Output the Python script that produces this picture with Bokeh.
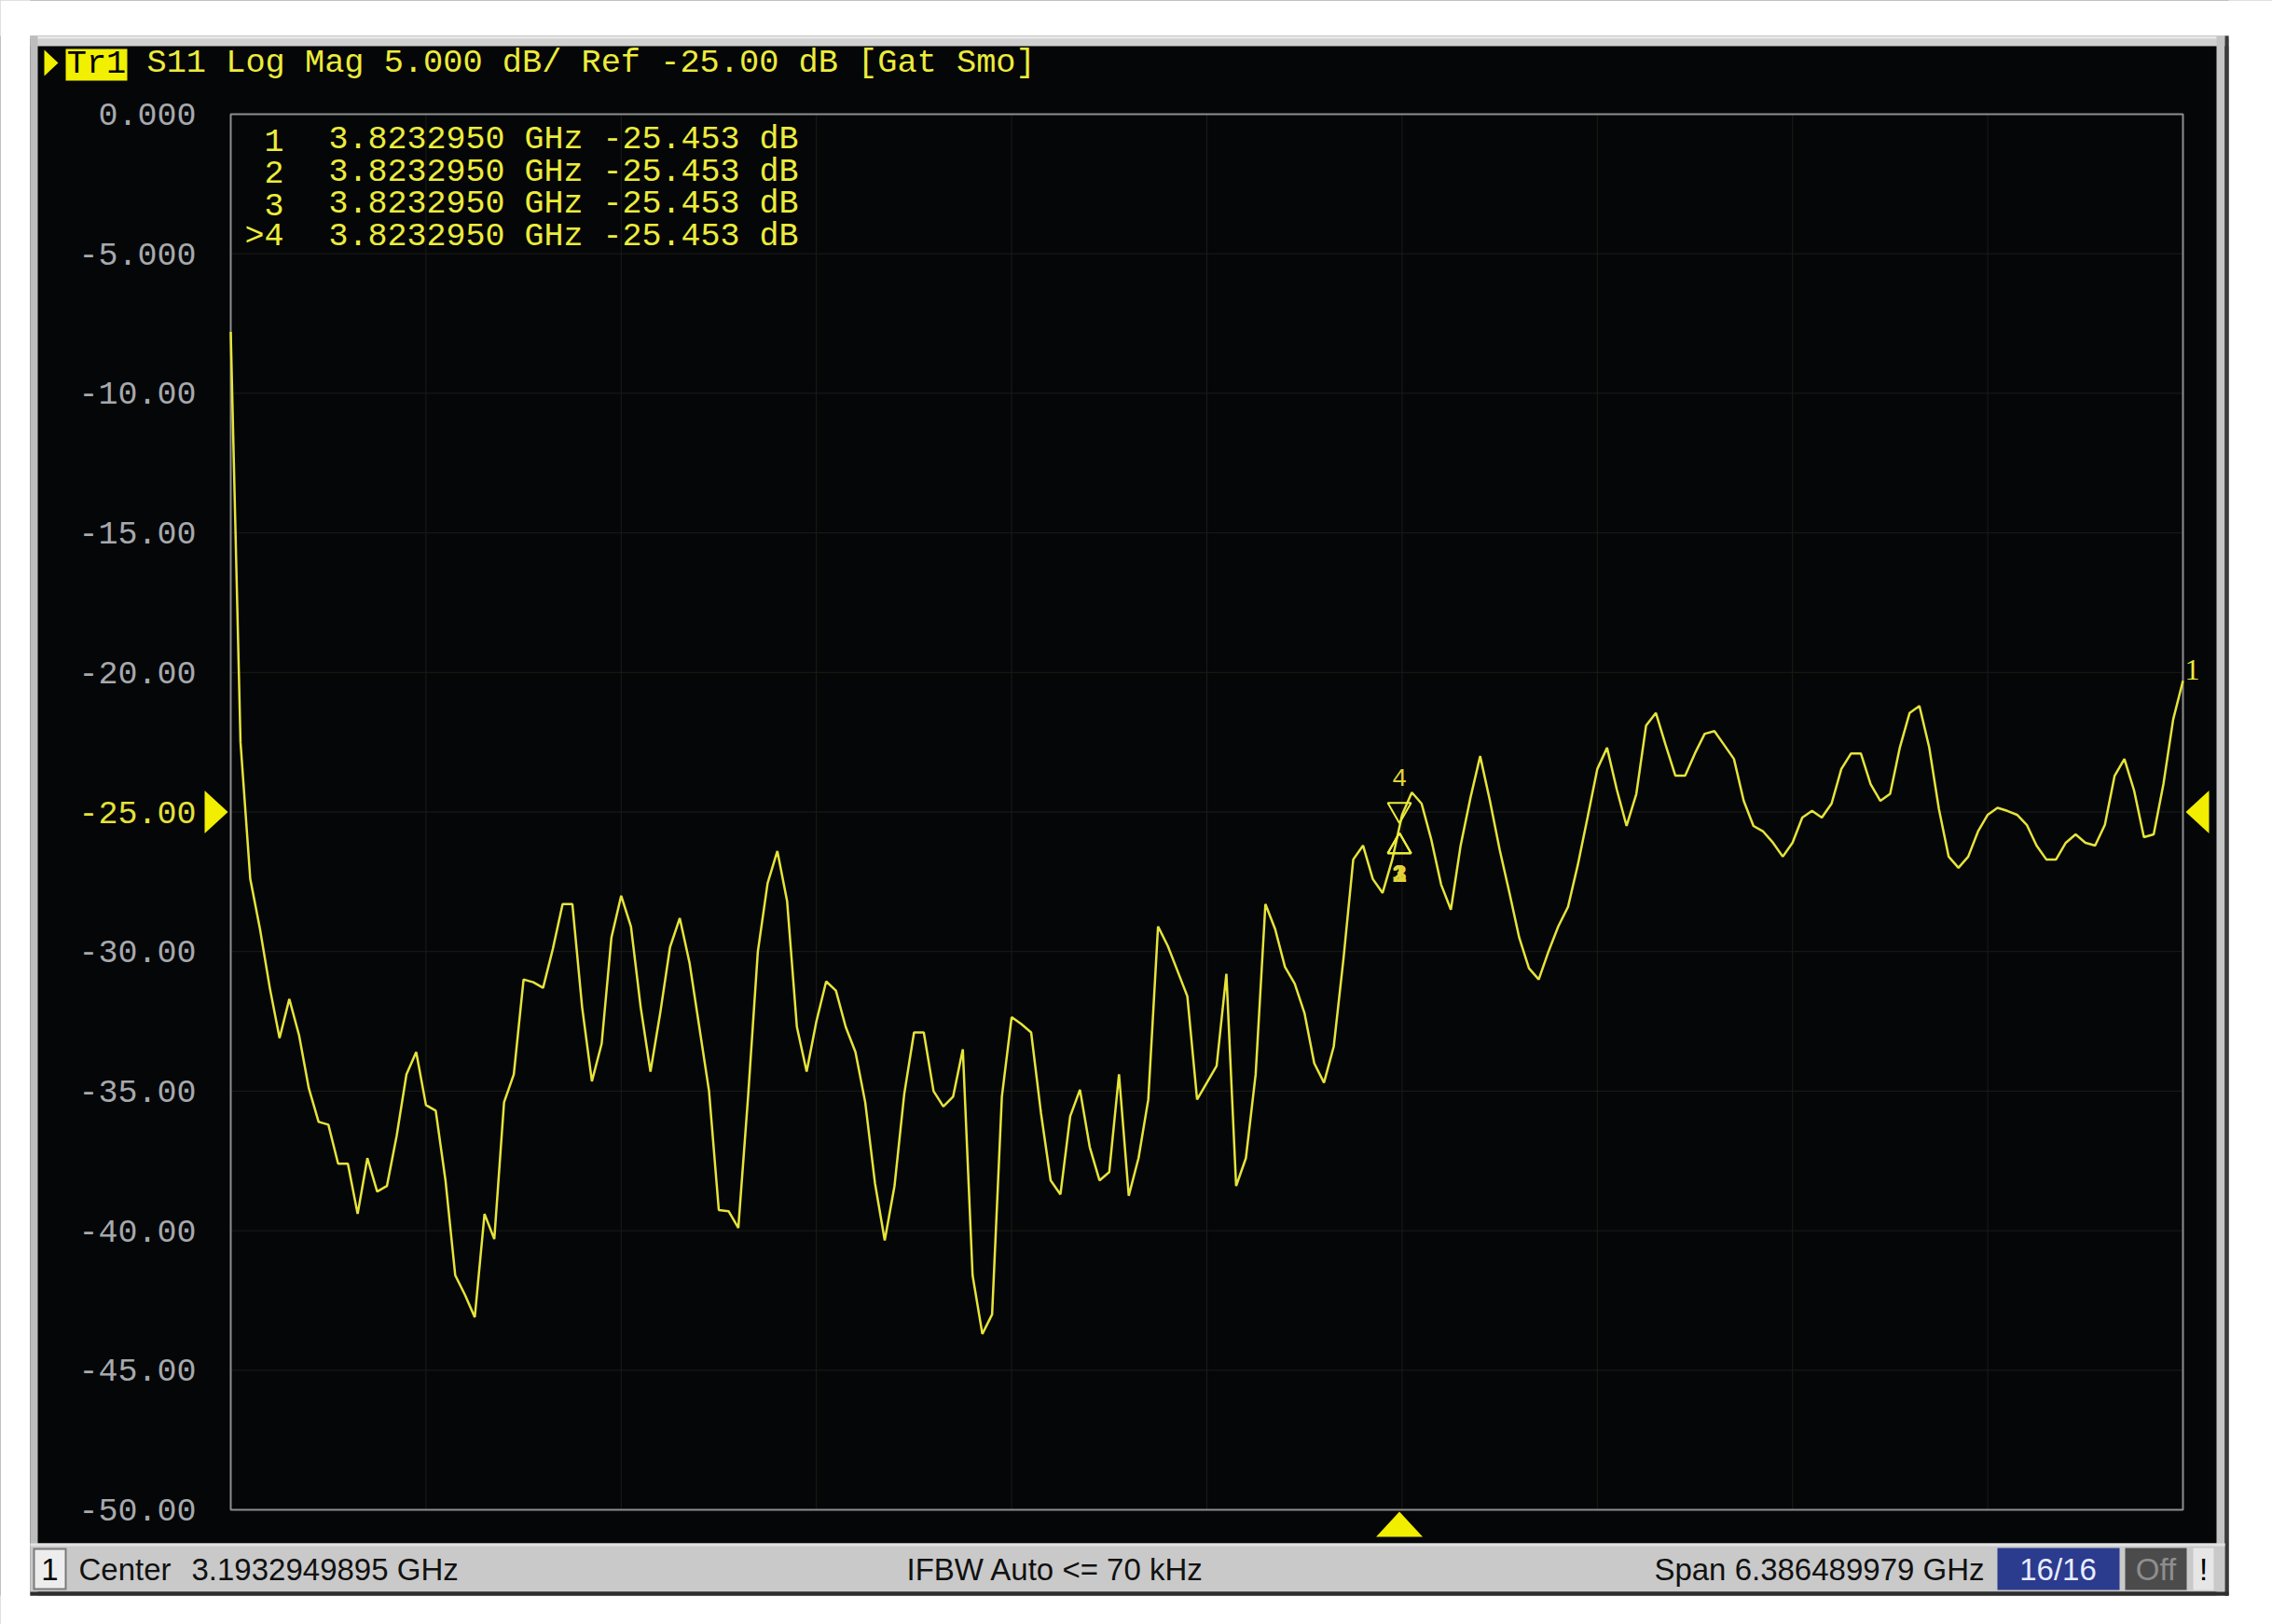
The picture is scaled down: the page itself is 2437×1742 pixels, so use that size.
from bokeh.plotting import figure
from bokeh.models import (Range1d, FixedTicker, Label, BoxAnnotation,
                          PolyAnnotation)
from bokeh.embed import file_html
from bokeh.resources import INLINE

# ---------------- data ----------------
center_ghz = 3.1932949895
span_ghz = 6.386489979
n_points = 201
s11_db = [
    -7.8, -22.5, -27.4, -29.2, -31.3, -33.1, -31.7, -33.0, -34.9, -36.1,
    -36.2, -37.6, -37.6, -39.4, -37.4, -38.6, -38.4, -36.6, -34.4, -33.6,
    -35.5, -35.7, -38.2, -41.6, -42.3, -43.1, -39.4, -40.3, -35.4, -34.4,
    -31.0, -31.1, -31.3, -29.9, -28.3, -28.3, -32.0, -34.65, -33.3, -29.5,
    -28.0, -29.1, -32.0, -34.3, -32.2, -29.85, -28.8, -30.4, -32.7, -35.0,
    -39.26, -39.3, -39.9, -35.2, -30.0, -27.55, -26.4, -28.2, -32.7, -34.3,
    -32.5, -31.07, -31.4, -32.7, -33.6, -35.4, -38.3, -40.35, -38.4, -35.1,
    -32.9, -32.9, -35.0, -35.55, -35.2, -33.5, -41.6, -43.7, -43.0, -35.2,
    -32.35, -32.6, -32.9, -35.77, -38.2, -38.7, -35.9, -34.95, -37.0, -38.2,
    -37.9, -34.4, -38.75, -37.4, -35.3, -29.1, -29.8, -30.7, -31.6, -35.3,
    -34.7, -34.1, -30.8, -38.4, -37.4, -34.4, -28.3, -29.2, -30.55, -31.15,
    -32.2, -34.0, -34.7, -33.4, -30.25, -26.7, -26.2, -27.4, -27.9, -26.7,
    -25.1, -24.3, -24.7, -26.0, -27.6, -28.5, -26.2, -24.5, -23.0, -24.6,
    -26.35, -27.9, -29.5, -30.6, -31.0, -30.0, -29.1, -28.4, -26.9, -25.2,
    -23.46, -22.7, -24.2, -25.5, -24.35, -21.9, -21.45, -22.6, -23.7, -23.7,
    -22.9, -22.2, -22.1, -22.6, -23.1, -24.6, -25.5, -25.7, -26.1, -26.6,
    -26.1, -25.2, -24.96, -25.2, -24.7, -23.46, -22.9, -22.9, -24.0, -24.6,
    -24.35, -22.68, -21.45, -21.2, -22.68, -24.9, -26.6, -27.0, -26.6, -25.7,
    -25.1, -24.85, -24.96, -25.1, -25.46, -26.2, -26.7, -26.7, -26.1, -25.8,
    -26.1, -26.2, -25.46, -23.7, -23.1, -24.24, -25.9, -25.8, -24.0, -21.68,
    -20.3,
]
y_ticks = [0, -5, -10, -15, -20, -25, -30, -35, -40, -45, -50]
y_tick_labels = ["0.000", "-5.000", "-10.00", "-15.00", "-20.00", "-25.00",
                 "-30.00", "-35.00", "-40.00", "-45.00", "-50.00"]
ref_level_db = -25.0
x_divisions = 10
marker_ids = ["1", "2", "3", ">4"]
marker_freq_ghz = [3.8232950, 3.8232950, 3.8232950, 3.8232950]
marker_db = [-25.453, -25.453, -25.453, -25.453]
trace_name = "Tr1"
header_text = "S11 Log Mag 5.000 dB/ Ref -25.00 dB [Gat Smo]"
channel_no = "1"
center_label = "Center"
ifbw_text = "IFBW Auto <= 70 kHz"
span_label = "Span"
avg_text = "16/16"
off_text = "Off"

f_start = center_ghz - span_ghz / 2
f_stop = center_ghz + span_ghz / 2
step = span_ghz / (n_points - 1)
freq_ghz = [f_start + i * step for i in range(n_points)]
y_top, y_bot = max(y_ticks), min(y_ticks)

# ---------------- layout (page pixels) ----------------
W, H = 2437, 1742
FL, FR, FT, FB = 247, 2341, 122, 1619          # graticule in page pixels
GHZ_PER_PX = (f_stop - f_start) / (FR - FL)
DB_PER_PX = (y_top - y_bot) / (FB - FT)


def X(px):
    return f_start + (px - FL) * GHZ_PER_PX


def Y(py):
    return y_top - (py - FT) * DB_PER_PX


BG = "#050608"
YEL = "#ecec3c"
TRACE = "#e6e43a"
TRI = "#f2ee00"
GRID = "#1c1c16"

p = figure(width=W, height=H, x_range=Range1d(X(0), X(W)),
           y_range=Range1d(Y(H), Y(0)), output_backend="svg",
           toolbar_location=None, x_axis_location=None,
           y_axis_location="left", min_border=0)
p.background_fill_color = BG
p.border_fill_color = BG
p.outline_line_color = None
p.xgrid.visible = False
p.ygrid.visible = False

# y axis, pinned to the left edge of the graticule
ya = p.yaxis[0]
ya.fixed_location = f_start
ya.ticker = FixedTicker(ticks=y_ticks)
ya.major_label_overrides = {t: (lab if t != ref_level_db else "")
                            for t, lab in zip(y_ticks, y_tick_labels)}
ya.axis_line_color = None
ya.major_tick_line_color = None
ya.minor_tick_line_color = None
ya.major_tick_out = 0
ya.major_tick_in = 0
ya.minor_tick_out = 0
ya.minor_tick_in = 0
ya.major_label_standoff = FL - 210
ya.major_label_text_font = "Liberation Mono"
ya.major_label_text_font_size = "35px"
ya.major_label_text_color = "#a6a9ad"


def box(l, r, t, b, color):
    p.add_layout(BoxAnnotation(left=X(l), right=X(r), top=Y(t), bottom=Y(b),
                               fill_color=color, fill_alpha=1.0,
                               line_color=None, level="underlay"))


def label(px, py, text, size, color, font="Liberation Mono", align="left",
          style="normal"):
    p.add_layout(Label(x=X(px), y=Y(py), text=text, text_font=font,
                       text_font_size=f"{size}px", text_color=color,
                       text_align=align, text_baseline="middle",
                       text_font_style=style))


def tri(xs_px, ys_px, color):
    p.add_layout(PolyAnnotation(xs=[X(v) for v in xs_px],
                                ys=[Y(v) for v in ys_px],
                                fill_color=color, fill_alpha=1.0,
                                line_color=None))


# instrument window chrome
box(-50, 2500, -50, 38, "white")
box(-50, 32, -50, 1800, "white")
box(2390, 2500, -50, 1800, "white")
box(-50, 2500, 1711, 1800, "white")
box(32, 2390, 38, 49, "#d0d0d0")
box(32, 2390, 38, 41, "#e8e8e8")
box(32, 40, 38, 1711, "#bdbdbd")
box(2377, 2386, 38, 1711, "#c4c4c4")
box(2386, 2390, 38, 1711, "#3a3a3a")
box(32, 2386, 1655, 1707, "#c9c9c9")
box(32, 2386, 1655, 1658, "#e2e2e2")
box(32, 2390, 1707, 1711, "#2e2e2e")
# status boxes
box(35, 71, 1660, 1705, "#7a7a7a")
box(37, 69, 1662, 1703, "#ededed")
box(2142, 2273, 1660, 1705, "#2b3b8e")
box(2279, 2345, 1660, 1705, "#4b4b4b")
box(2352, 2374, 1660, 1705, "#e6e6e6")
# header trace box
box(70, 136, 52, 86, "#f0f000")

# graticule grid and frame
x_div = [f_start + k * span_ghz / x_divisions for k in range(1, x_divisions)]
p.segment(x0=x_div, y0=[y_bot] * len(x_div), x1=x_div,
          y1=[y_top] * len(x_div), line_color=GRID, line_width=1)
y_inner = y_ticks[1:-1]
p.segment(x0=[f_start] * len(y_inner), y0=y_inner,
          x1=[f_stop] * len(y_inner), y1=y_inner,
          line_color=GRID, line_width=1)
p.quad(left=[f_start], right=[f_stop], bottom=[y_bot], top=[y_top],
       fill_color=None, line_color="#8e8e8e", line_width=2)

# trace
p.line(freq_ghz, s11_db, line_color=TRACE, line_width=2.5)

# markers on the trace
mf = marker_freq_ghz[-1]
mv = marker_db[-1]
p.scatter([mf], [mv + 16 * DB_PER_PX], marker="inverted_triangle", size=25,
          fill_color=None, line_color=YEL, line_width=2)
p.scatter([mf] * 3, [v - 23.4 * DB_PER_PX for v in marker_db[:3]],
          marker="triangle", size=25, fill_color=None, line_color=YEL,
          line_width=2)

mx_px = FL + (mf - f_start) / GHZ_PER_PX
mv_px = FT + (y_top - mv) / DB_PER_PX
label(mx_px, mv_px - 51, marker_ids[-1].strip(">"), 27, "#e0d23a",
      align="center")
for mid in marker_ids[:3]:
    label(mx_px, mv_px + 52, mid, 27, "#e0d23a", align="center",
          style="bold")

# reference level and stimulus triangles
ref_px = FT + (y_top - ref_level_db) / DB_PER_PX
tri([219, 244, 219], [ref_px - 23, ref_px, ref_px + 23], TRI)
tri([2369, 2344, 2369], [ref_px - 23, ref_px, ref_px + 23], TRI)
tri([mx_px - 25, mx_px, mx_px + 25], [1648, 1621, 1648], TRI)
label(2343, 718, "1", 32, YEL, font="Liberation Serif")

# reference level tick label in yellow
label(210, ref_px, y_tick_labels[y_ticks.index(ref_level_db)], 35, "#e4e23a",
      align="right")

# header
tri([47, 47, 62], [53, 81, 67], TRI)
label(103, 68, trace_name, 35.3, "#000000", align="center")
label(157, 67, header_text, 35.3, YEL)

# marker readout
for k, (mid, f, v) in enumerate(zip(marker_ids, marker_freq_ghz, marker_db)):
    cy = 149.5 + k * 34.6
    label(304, cy, mid, 35, YEL, align="right")
    label(352, cy, f"{f:.7f} GHz {v:.3f} dB", 35, YEL)

# status bar
SF = "Liberation Sans"
SY = 1683
label(53, SY, channel_no, 33, "#000000", font=SF, align="center")
label(84, SY, center_label, 33, "#111111", font=SF)
label(205, SY, f"{center_ghz:.10f} GHz", 33, "#111111", font=SF)
label(972, SY, ifbw_text, 33, "#111111", font=SF)
label(2128, SY, f"{span_label} {span_ghz:.9f} GHz", 33, "#111111", font=SF,
      align="right")
label(2207, SY, avg_text, 33, "#e8ecff", font=SF, align="center")
label(2312, SY, off_text, 33, "#8e8e8e", font=SF, align="center")
label(2363, SY, "!", 33, "#000000", font=SF, align="center")

open("out.html", "w").write(file_html(p, INLINE))
